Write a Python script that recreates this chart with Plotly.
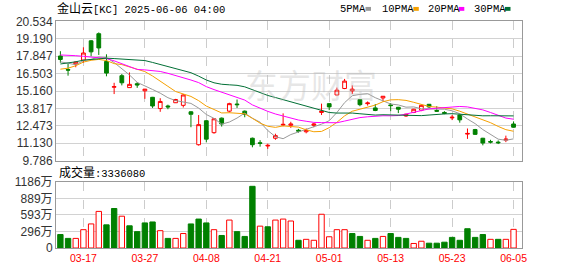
import plotly.graph_objects as go
import pandas as pd

# ---------------- data ----------------
dates = ["03-12", "03-13", "03-14", "03-17", "03-18", "03-19", "03-20", "03-21", "03-24", "03-25",
         "03-26", "03-27", "03-28", "03-31", "04-01", "04-02", "04-03", "04-04", "04-07", "04-08",
         "04-09", "04-10", "04-11", "04-14", "04-15", "04-16", "04-17", "04-21", "04-22", "04-23",
         "04-24", "04-25", "04-28", "04-29", "04-30", "05-01", "05-02", "05-05", "05-06", "05-07",
         "05-08", "05-09", "05-12", "05-13", "05-14", "05-15", "05-16", "05-19", "05-20", "05-21",
         "05-22", "05-23", "05-27", "05-28", "05-29", "05-30", "06-02", "06-03", "06-04", "06-05"]

opens = [17.87, 16.82, 17.25, 17.55, 19.04, 19.59, 17.45, 15.46, 16.35, 15.43,
         15.73, 15.18, 14.68, 13.81, 14.01, 14.26, 14.06, 13.56, 11.02, 12.87,
         11.95, 13.07, 13.61, 14.16, 13.61, 11.52, 11.17, 10.92, 11.52, 12.54,
         12.52, 12.14, 12.02, 12.52, 13.51, 14.19, 14.86, 15.36, 15.18, 14.51,
         14.19, 13.86, 14.63, 14.09, 13.91, 13.24, 13.51, 13.69, 14.14, 13.66,
         13.51, 13.09, 13.31, 11.84, 12.19, 11.52, 11.27, 11.22, 11.37, 12.62]
highs = [18.24, 17.25, 17.45, 18.54, 19.10, 19.69, 18.00, 15.80, 16.48, 16.60,
         15.85, 15.33, 14.71, 14.61, 14.11, 14.56, 14.93, 13.61, 13.31, 12.92,
         13.07, 13.12, 14.26, 14.51, 13.66, 11.57, 11.37, 11.10, 11.87, 13.44,
         12.79, 12.24, 12.27, 12.69, 14.19, 14.21, 15.43, 16.10, 15.60, 14.54,
         14.36, 14.16, 14.78, 14.24, 13.94, 13.41, 13.79, 14.11, 14.16, 13.99,
         13.61, 13.31, 13.34, 12.27, 12.24, 11.55, 11.40, 11.35, 11.72, 12.82]
lows = [17.35, 16.35, 17.00, 17.35, 17.85, 17.95, 16.30, 14.93, 15.60, 15.43,
        15.41, 14.56, 13.86, 13.56, 13.76, 14.24, 13.89, 12.37, 10.95, 11.20,
        11.87, 12.42, 13.51, 13.86, 13.14, 10.82, 10.87, 10.70, 11.40, 12.44,
        12.32, 11.95, 11.90, 12.37, 13.31, 13.69, 14.83, 15.31, 14.93, 13.99,
        14.04, 13.61, 14.36, 13.61, 13.46, 13.17, 13.46, 13.61, 13.86, 13.56,
        13.37, 12.92, 12.72, 11.47, 11.77, 10.97, 11.12, 11.07, 11.22, 12.34]
closes = [17.60, 16.78, 17.40, 18.10, 18.19, 18.49, 16.55, 15.50, 15.80, 15.68,
          15.63, 15.31, 14.01, 14.36, 13.94, 14.51, 14.86, 13.37, 12.57, 11.45,
          13.02, 12.62, 14.19, 14.11, 13.37, 11.02, 11.12, 10.97, 11.72, 12.59,
          12.62, 12.07, 12.12, 12.62, 13.61, 13.94, 15.23, 15.93, 15.31, 14.11,
          14.24, 13.66, 14.76, 14.04, 13.76, 13.37, 13.76, 14.06, 13.94, 13.61,
          13.44, 13.14, 12.94, 11.89, 11.82, 11.15, 11.22, 11.17, 11.45, 12.37]

# volume in 万 (10k shares)
volumes = [241, 172, 172, 328, 431, 655, 414, 707, 569, 397,
           293, 449, 466, 310, 172, 172, 259, 431, 518, 449,
           328, 224, 500, 293, 207, 1104, 391, 380, 500, 518,
           483, 138, 155, 138, 604, 201, 328, 328, 259, 207,
           138, 172, 207, 259, 190, 172, 81, 121, 86, 86,
           104, 190, 138, 345, 190, 241, 155, 155, 155, 333.608]

# closes before 03-12 (estimated from where the MA lines start)
prior_closes = [14.7, 14.4, 14.2, 16.7, 17.0, 15.05, 16.4, 17.3, 16.6, 16.2,
                16.9, 18.4, 19.1, 19.3, 19.2, 18.2, 19.0, 20.5, 20.4, 19.5,
                16.0, 15.5, 15.3, 16.8, 17.8, 17.45, 17.85, 16.55, 17.65]

tick_labels = ["03-17", "03-27", "04-08", "04-21", "05-01", "05-13", "05-23", "06-05"]
price_ticks = [9.786, 11.130, 12.473, 13.817, 15.160, 16.503, 17.847, 19.190, 20.534]
vol_ticks = [0, 296.5, 593, 889.5, 1186]
vol_tick_text = ["0", "296万", "593万", "889万", "1186万"]
ma_periods = [5, 10, 20, 30]
ma_names = ["5PMA", "10PMA", "20PMA", "30PMA"]
ma_colors = ["#999999", "#f5a000", "#ff00ff", "#006f35"]
last_volume_text = "3336080"

# ---------------- figure ----------------
W, H = 578, 276
ML, MR, MT, MB = 56, 56, 21, 21
PW, PH = W - ML - MR, H - MT - MB


def px_x(px):
    return (px - ML) / PW


def px_y(py):
    return (H - MB - py) / PH


fig = go.Figure()

fig.add_trace(go.Candlestick(
    x=dates, open=opens, high=highs, low=lows, close=closes,
    increasing=dict(line=dict(color="#ff0000", width=1), fillcolor="#ffffff"),
    decreasing=dict(line=dict(color="#008000", width=1), fillcolor="#008000"),
    whiskerwidth=0, xaxis="x", yaxis="y", hoverinfo="skip", showlegend=False))

all_closes = pd.Series(prior_closes + closes)
for n, name, col in zip(ma_periods, ma_names, ma_colors):
    ma = all_closes.rolling(n).mean().iloc[-len(closes):].tolist()
    fig.add_trace(go.Scatter(x=dates, y=ma, mode="lines", name=name,
                             line=dict(color=col, width=1), xaxis="x", yaxis="y",
                             hoverinfo="skip", showlegend=False))

prev = [prior_closes[-1]] + closes[:-1]
up = [c > p for c, p in zip(closes, prev)]
fill_cols = ["#ffffff" if u else "#008000" for u in up]
line_cols = ["#ff0000" if u else "#008000" for u in up]
fig.add_trace(go.Bar(x=dates, y=volumes, width=0.7, xaxis="x2", yaxis="y2",
                     marker=dict(color=fill_cols, line=dict(color=line_cols, width=1)),
                     hoverinfo="skip", showlegend=False))

xrange = [-0.57, len(dates) + 0.1]
common_x = dict(type="category", range=xrange, tickmode="array", tickvals=tick_labels,
                showgrid=True, gridcolor="#cccccc", griddash="dash", gridwidth=1,
                showline=True, linecolor="#999999", linewidth=1, mirror=True,
                zeroline=False, ticks="", fixedrange=True)

fig.update_layout(
    width=W, height=H,
    margin=dict(l=ML, r=MR, t=MT, b=MB, pad=0),
    paper_bgcolor="#ffffff", plot_bgcolor="#ffffff",
    showlegend=False,
    xaxis=dict(common_x, anchor="y", domain=[0, 1], showticklabels=False,
               rangeslider=dict(visible=False)),
    xaxis2=dict(common_x, anchor="y2", domain=[0, 1], showticklabels=True,
                tickfont=dict(family="Liberation Sans, Arial", size=10.5, color="#ff0000")),
    yaxis=dict(domain=[px_y(165), px_y(21.5)], range=[price_ticks[0], price_ticks[-1]],
               tickmode="array", tickvals=price_ticks, ticktext=[f"{v:.3f}" for v in price_ticks],
               showgrid=True, gridcolor="#d2d2d2", gridwidth=1, zeroline=False,
               showline=True, linecolor="#999999", linewidth=1, mirror=True, ticks="",
               tickfont=dict(family="Liberation Sans, Arial", size=12, color="#333333"),
               fixedrange=True),
    yaxis2=dict(domain=[0, px_y(186.7)], range=[0, vol_ticks[-1]],
                tickmode="array", tickvals=vol_ticks, ticktext=vol_tick_text,
                showgrid=True, gridcolor="#d2d2d2", gridwidth=1, zeroline=False,
                showline=True, linecolor="#999999", linewidth=1, mirror=True, ticks="",
                tickfont=dict(family="Liberation Sans, Noto Sans CJK SC", size=12, color="#333333"),
                fixedrange=True),
)

mono = "Liberation Mono, Noto Sans CJK SC"
annotations = [
    dict(text="<span style='font-size:12px'>金山云</span>[KC] 2025-06-06 04:00",
         x=px_x(55), y=px_y(8.5), xanchor="left", yanchor="middle",
         font=dict(family=mono, size=10.5, color="#000000")),
    dict(text="<span style='font-size:12px'>成交量</span>:" + last_volume_text,
         x=px_x(57), y=px_y(177.5), xanchor="left", yanchor="middle",
         font=dict(family=mono, size=10.5, color="#000000")),
    dict(text="东方财富", x=px_x(311), y=px_y(86), xanchor="center", yanchor="middle",
         font=dict(family="Noto Sans CJK SC", size=33, color="rgba(185,185,185,0.35)")),
]
shapes = []
legend_text_x = [338, 380, 425.5, 471.5]
legend_box_x = [365.5, 413.3, 458.8, 505]
for name, col, tx, bx in zip(ma_names, ma_colors, legend_text_x, legend_box_x):
    annotations.append(dict(text=name, x=px_x(tx), y=px_y(8.5), xanchor="left", yanchor="middle",
                            font=dict(family=mono, size=10.5, color="#000000")))
    shapes.append(dict(type="rect", xref="paper", yref="paper",
                       x0=px_x(bx), x1=px_x(bx + 5.5), y0=px_y(10.5), y1=px_y(6.5),
                       fillcolor=col, line=dict(width=0)))
for a in annotations:
    a.update(xref="paper", yref="paper", showarrow=False)
fig.update_layout(annotations=annotations, shapes=shapes)

fig.write_html("out.html", config={"displayModeBar": False, "staticPlot": True})
